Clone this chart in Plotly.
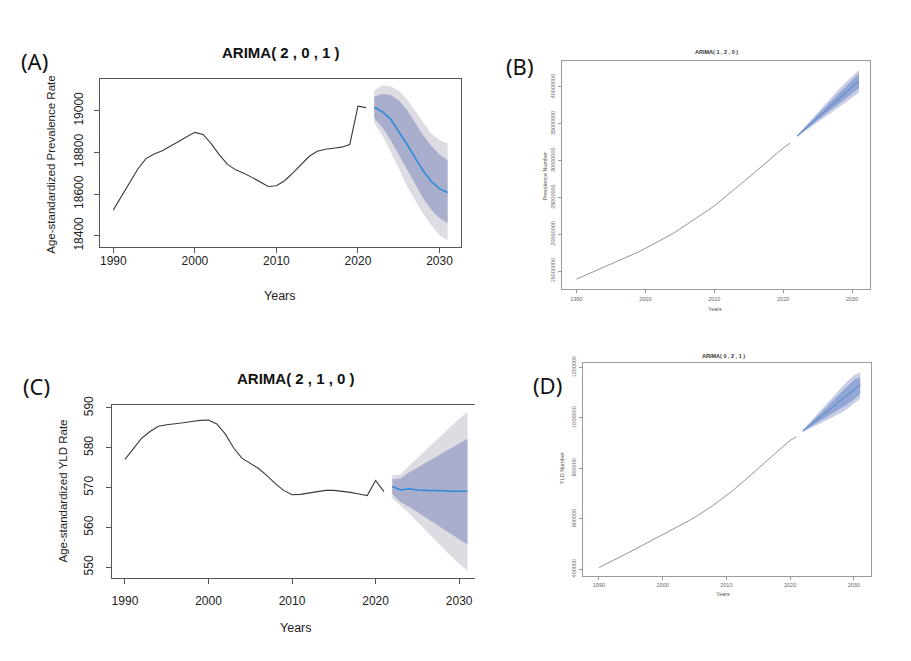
import plotly.graph_objects as go

OFF = 8                                # default page body margin
W, H = 911 - 2 * OFF, 661 - 2 * OFF    # figure size so that the page fits the window exactly


def px_x(x):
    return (x - OFF) / W


def px_y(y):
    return 1 - (y - OFF) / H


# ---------------- DATA ----------------
years_hist = list(range(1990, 2022))
years_fc = list(range(2022, 2032))

# Panel A: Age-standardized Prevalence Rate, ARIMA(2,0,1)
a_hist = [18524, 18590, 18660, 18720, 18770, 18792, 18808, 18828, 18852, 18875,
          18896, 18886, 18842, 18788, 18742, 18716, 18700, 18680, 18658, 18636,
          18640, 18664, 18700, 18740, 18780, 18805, 18815, 18820, 18825, 18838,
          19022, 19015]
a_mean = [19017, 18995, 18960, 18902, 18840, 18775, 18712, 18660, 18626, 18607]
a_up80 = [19067, 19080, 19075, 19050, 19005, 18945, 18882, 18830, 18790, 18762]
a_lo80 = [18965, 18920, 18860, 18790, 18715, 18645, 18580, 18525, 18485, 18460]
a_up95 = [19096, 19122, 19118, 19095, 19055, 19000, 18940, 18890, 18860, 18843]
a_lo95 = [18942, 18880, 18805, 18725, 18640, 18570, 18505, 18450, 18402, 18378]

# Panel B: Prevalence Number (millions), ARIMA(1,2,0)
b_hist = [13.90, 14.30, 14.70, 15.10, 15.50, 15.90, 16.30, 16.72, 17.15, 17.60,
          18.08, 18.56, 19.05, 19.55, 20.10, 20.70, 21.30, 21.95, 22.55, 23.20,
          23.85, 24.60, 25.35, 26.10, 26.90, 27.70, 28.50, 29.30, 30.10, 30.90,
          31.70, 32.35]
b_mean = [33.30, 34.15, 35.00, 35.85, 36.70, 37.55, 38.40, 39.20, 40.00, 40.80]
b_up80 = [33.35, 34.35, 35.30, 36.25, 37.20, 38.15, 39.10, 40.00, 40.90, 41.80]
b_lo80 = [33.25, 33.95, 34.70, 35.45, 36.20, 36.95, 37.70, 38.40, 39.10, 39.80]
b_up95 = [33.40, 34.45, 35.50, 36.50, 37.55, 38.55, 39.60, 40.55, 41.45, 42.30]
b_lo95 = [33.20, 33.85, 34.50, 35.20, 35.85, 36.55, 37.20, 37.85, 38.55, 39.20]

# Panel C: Age-standardized YLD Rate, ARIMA(2,1,0)
c_hist = [577.1, 579.9, 582.4, 584.1, 585.4, 585.8, 586.0, 586.3, 586.6, 586.9,
          587.0, 586.0, 583.5, 580.0, 577.4, 576.0, 574.8, 573.0, 571.0, 569.3,
          568.2, 568.3, 568.6, 569.0, 569.3, 569.3, 569.1, 568.8, 568.4, 568.0,
          571.8, 569.0]
c_mean = [570.3, 569.4, 569.7, 569.4, 569.3, 569.3, 569.2, 569.1, 569.1, 569.1]
c_up80 = [572.1, 572.3, 573.8, 575.0, 576.3, 577.5, 578.8, 580.0, 581.2, 582.3]
c_lo80 = [568.4, 566.3, 565.2, 563.8, 562.4, 561.0, 559.6, 558.2, 557.0, 555.8]
c_up95 = [573.1, 573.3, 575.5, 577.5, 579.5, 581.5, 583.5, 585.5, 587.3, 589.0]
c_lo95 = [567.3, 565.5, 563.6, 561.4, 559.2, 557.0, 554.9, 552.8, 550.9, 549.1]

# Panel D: YLD Number (thousands), ARIMA(0,2,1)
d_hist = [406, 418, 431, 444, 457, 470, 483, 496, 509, 522,
          535, 549, 562, 576, 590, 605, 620, 637, 654, 672,
          690, 711, 733, 755, 778, 800, 822, 845, 868, 890,
          910, 925]
d_mean = [948, 968, 989, 1009, 1030, 1050, 1070, 1091, 1111, 1131]
d_up80 = [950, 975, 1000, 1026, 1052, 1078, 1104, 1128, 1150, 1161]
d_lo80 = [946, 961, 978, 992, 1008, 1022, 1036, 1054, 1072, 1097]
d_up95 = [952, 980, 1008, 1036, 1065, 1093, 1121, 1146, 1168, 1180]
d_lo95 = [944, 956, 970, 982, 995, 1007, 1019, 1036, 1056, 1077]

x_ticks = [1990, 2000, 2010, 2020, 2030]
a_yticks = [18400, 18600, 18800, 19000]
b_yticks = [15, 20, 25, 30, 35, 40]
b_yticklabels = ["15000000", "20000000", "25000000", "30000000", "35000000", "40000000"]
c_yticks = [550, 560, 570, 580, 590]
d_yticks = [400, 600, 800, 1000, 1200]
d_yticklabels = ["400000", "600000", "800000", "1000000", "1200000"]

panels = [
    dict(key="1", hist=a_hist, mean=a_mean, up80=a_up80, lo80=a_lo80, up95=a_up95, lo95=a_lo95,
         box=(100, 461, 70, 242), xr=[1988.36, 2032.64], yr=[18346, 19154],
         yt=a_yticks, ytl=[str(v) for v in a_yticks], small=False, mirror_y=True,
         xso=-2, yso=6),
    dict(key="2", hist=b_hist, mean=b_mean, up80=b_up80, lo80=b_lo80, up95=b_up95, lo95=b_lo95,
         box=(562, 870, 52, 285), xr=[1987.9, 2032.6], yr=[12.57, 43.5],
         yt=b_yticks, ytl=b_yticklabels, small=True, mirror_y=True, xso=1, yso=1),
    dict(key="3", hist=c_hist, mean=c_mean, up80=c_up80, lo80=c_lo80, up95=c_up95, lo95=c_lo95,
         box=(112, 475, 404, 580), xr=[1988.45, 2031.9], yr=[547.4, 590.65],
         yt=c_yticks, ytl=[str(v) for v in c_yticks], small=False, mirror_y=False,
         xso=7, yso=8),
    dict(key="4", hist=d_hist, mean=d_mean, up80=d_up80, lo80=d_lo80, up95=d_up95, lo95=d_lo95,
         box=(583, 871, 361, 578), xr=[1987.5, 2032.7], yr=[374, 1216],
         yt=d_yticks, ytl=d_yticklabels, small=True, mirror_y=True, xso=1, yso=1),
]

fig = go.Figure()
annotations = []
layout_axes = {}

for p in panels:
    k = p["key"]
    xa = "x" if k == "1" else "x" + k
    ya = "y" if k == "1" else "y" + k
    small = p["small"]
    c95 = "#C9CEE6" if small else "#DCDCE2"
    c80 = "#93A7D6" if small else "#A9AECD"
    hist_col = "#777777" if small else "#3A3A3A"
    mean_col = "#4A84CC" if small else "#2E8BDA"

    fig.add_trace(go.Scatter(x=years_fc, y=p["lo95"], mode="lines", line=dict(width=0),
                             hoverinfo="skip", showlegend=False, xaxis=xa, yaxis=ya))
    fig.add_trace(go.Scatter(x=years_fc, y=p["up95"], mode="lines", line=dict(width=0),
                             fill="tonexty", fillcolor=c95, hoverinfo="skip",
                             showlegend=False, xaxis=xa, yaxis=ya))
    fig.add_trace(go.Scatter(x=years_fc, y=p["lo80"], mode="lines", line=dict(width=0),
                             hoverinfo="skip", showlegend=False, xaxis=xa, yaxis=ya))
    fig.add_trace(go.Scatter(x=years_fc, y=p["up80"], mode="lines", line=dict(width=0),
                             fill="tonexty", fillcolor=c80, hoverinfo="skip",
                             showlegend=False, xaxis=xa, yaxis=ya))
    fig.add_trace(go.Scatter(x=years_hist, y=p["hist"], mode="lines",
                             line=dict(color=hist_col, width=0.8 if small else 1.1),
                             showlegend=False, xaxis=xa, yaxis=ya))
    fig.add_trace(go.Scatter(x=years_fc, y=p["mean"], mode="lines",
                             line=dict(color=mean_col, width=1.0 if small else 1.6),
                             showlegend=False, xaxis=xa, yaxis=ya))

    x0, x1, y0, y1 = p["box"]
    dom_x = [px_x(x0), px_x(x1)]
    dom_y = [px_y(y1), px_y(y0)]
    tick_font = dict(family="Liberation Sans, Arial", size=5.5 if small else 12,
                     color="#666666" if small else "#222222")
    line_col = "#9A9A9A" if small else "#555555"
    axname_x = "xaxis" if k == "1" else "xaxis" + k
    axname_y = "yaxis" if k == "1" else "yaxis" + k
    layout_axes[axname_x] = dict(
        domain=dom_x, range=p["xr"], anchor=ya, tickmode="array", tickvals=x_ticks,
        ticktext=[str(v) for v in x_ticks], ticks="outside", ticklen=3 if small else 5,
        tickcolor=line_col, tickfont=tick_font, showline=True, linecolor=line_col,
        linewidth=1, mirror=True, showgrid=False, zeroline=False, fixedrange=True,
        ticklabelstandoff=p["xso"])
    layout_axes[axname_y] = dict(
        domain=dom_y, range=p["yr"], anchor=xa, tickmode="array", tickvals=p["yt"],
        ticktext=p["ytl"], tickangle=-90, ticks="outside", ticklen=3 if small else 5,
        tickcolor=line_col, tickfont=tick_font, showline=True, linecolor=line_col,
        linewidth=1, mirror=p["mirror_y"], showgrid=False, zeroline=False, fixedrange=True,
        ticklabelstandoff=p["yso"])

panel_text = [
    ("(A)", 34, 52),
    ("(B)", 520, 57),
    ("(C)", 36, 384),
    ("(D)", 547, 383),
]
for t, x, y in panel_text:
    annotations.append(dict(text=t, x=px_x(x), y=px_y(y), xref="paper", yref="paper",
                            showarrow=False, font=dict(size=22, color="#111111", family="Noto Sans"),
                            xanchor="center", yanchor="middle"))

titles = [
    ("ARIMA( 2 , 0 , 1 )", 281, 43, 15, "#111111"),
    ("ARIMA( 1 , 2 , 0 )", 716, 43, 5.5, "#333333"),
    ("ARIMA( 2 , 1 , 0 )", 296, 376, 15, "#111111"),
    ("ARIMA( 0 , 2 , 1 )", 723, 353, 5.5, "#333333"),
]
for t, x, y, s, col in titles:
    annotations.append(dict(text="<b>" + t + "</b>", x=px_x(x), y=px_y(y), xref="paper",
                            yref="paper", showarrow=False,
                            font=dict(size=s, color=col, family="Liberation Sans, Arial"),
                            xanchor="center", yanchor="middle"))

axis_titles = [
    ("Years", 280, 292, 12.5, 0, "#222222"),
    ("Age-standardized Prevalence Rate", 51, 158, 11.5, -90, "#222222"),
    ("Years", 715, 305, 5.5, 0, "#555555"),
    ("Prevalence Number", 545, 170, 5.5, -90, "#555555"),
    ("Years", 296, 632, 12.5, 0, "#222222"),
    ("Age-standardized YLD Rate", 63, 492, 11.5, -90, "#222222"),
    ("Years", 723, 597, 5.5, 0, "#555555"),
    ("YLD Number", 562, 468, 5.5, -90, "#555555"),
]
for t, x, y, s, rot, col in axis_titles:
    annotations.append(dict(text=t, x=px_x(x), y=px_y(y), xref="paper", yref="paper",
                            showarrow=False, textangle=rot,
                            font=dict(size=s, color=col, family="Liberation Sans, Arial"),
                            xanchor="center", yanchor="middle"))

fig.update_layout(
    width=W, height=H, margin=dict(l=0, r=0, t=0, b=0),
    paper_bgcolor="white", plot_bgcolor="white", showlegend=False,
    annotations=annotations, **layout_axes)

fig.write_html("out.html", config={"displayModeBar": False})
